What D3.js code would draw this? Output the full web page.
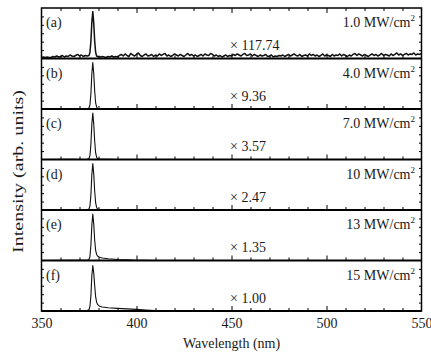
<!DOCTYPE html>
<html>
<head>
<meta charset="utf-8">
<script src="https://cdn.jsdelivr.net/npm/d3@7"></script>
<style>
  html, body { margin: 0; padding: 0; background: #fff; }
  svg { display: block; font-family: "Liberation Serif", "Times New Roman", serif; }
  text { fill: #1a1a1a; }
</style>
</head>
<body>
<svg id="chart" width="431" height="358"></svg>
<script>
// Panel descriptions (top to bottom)
const panelTags   = ["(a)", "(b)", "(c)", "(d)", "(e)", "(f)"];
const powerValues = ["1.0", "4.0", "7.0", "10", "13", "15"];
const scaleFactors = ["117.74", "9.36", "3.57", "2.47", "1.35", "1.00"];

// Shared wavelength grid (nm) for the emission line
const peakWl = [350, 365, 372, 374, 375, 375.5, 376, 376.5, 377, 377.5, 378, 378.5,
                379, 379.5, 380.5, 382, 385, 390, 395, 400, 405, 410, 420, 450, 500, 550];

// Normalized intensity for each panel on peakWl
const specA = [0.04, 0.05, 0.05, 0.05, 0.06, 0.12, 0.34, 0.72, 0.93, 0.7, 0.34, 0.12,
               0.05, 0.04, 0.04, 0.04, 0.04, 0.04, 0.05, 0.06, 0.05, 0.06, 0.06, 0.06, 0.06, 0.06];
const specB = [0, 0, 0, 0.004, 0.02, 0.08, 0.3, 0.7, 0.92, 0.7, 0.35, 0.12,
               0.04, 0.015, 0.006, 0.003, 0.002, 0, 0, 0, 0, 0, 0, 0, 0, 0];
const specC = [0, 0.004, 0, 0.004, 0.02, 0.08, 0.3, 0.7, 0.92, 0.7, 0.36, 0.13,
               0.045, 0.018, 0.008, 0.004, 0.002, 0, 0, 0, 0, 0, 0, 0, 0, 0];
const specD = [0, 0.004, 0, 0.005, 0.02, 0.08, 0.3, 0.7, 0.92, 0.71, 0.37, 0.14,
               0.05, 0.022, 0.01, 0.006, 0.003, 0.001, 0, 0, 0, 0, 0, 0, 0, 0];
const specE = [0, 0.003, 0.003, 0.006, 0.02, 0.08, 0.3, 0.7, 0.92, 0.72, 0.4, 0.2,
               0.12, 0.09, 0.065, 0.05, 0.035, 0.02, 0.012, 0.006, 0.003, 0, 0, 0, 0, 0];
const specF = [0, 0.004, 0.004, 0.008, 0.025, 0.09, 0.3, 0.7, 0.9, 0.75, 0.5, 0.28,
               0.18, 0.13, 0.095, 0.08, 0.065, 0.052, 0.042, 0.032, 0.02, 0.01, 0.003, 0, 0, 0];

// Background noise of the weakest spectrum, 1 nm steps from 350 nm (hundredths of full scale)
const noiseA = [
  2,3,2,3,2,2,4,3,5,3,4,6,3,5,4,7,5,4,6,8,5,7,4,6,5,
  5,5,5,5,5,5,
  3,4,3,2,4,3,5,3,4,3,6,
  8,5,9,6,4,10,7,5,8,11,6,4,7,9,5,6,8,4,7,5,
  9,6,8,10,5,7,4,6,9,7,5,8,6,4,7,10,6,8,5,7,
  4,6,8,5,9,7,6,10,8,5,7,4,6,3,5,7,4,6,5,8,
  6,9,7,5,8,10,6,7,9,5,8,6,4,7,5,6,8,4,5,7,
  3,5,4,6,5,7,4,6,8,5,7,9,6,5,8,4,6,7,5,9,
  6,8,5,7,4,6,9,5,7,6,4,8,5,7,6,9,5,8,6,4,
  7,5,8,10,6,9,7,5,8,6,4,7,9,6,8,5,7,10,6,8,
  7,5,9,6,8,11,7,9,6,8,10,7,9,8,11,7,9,8,10
];

const xTickLabels = [350, 400, 450, 500, 550];

const spectra = [specA, specB, specC, specD, specE, specF];

const svg = d3.select("#chart");
const plotLeft = 41.5, plotRight = 421.5, plotTop = 8, panelH = 50.5;
const nPanels = spectra.length;
const plotBottom = plotTop + panelH * nPanels;

const x = d3.scaleLinear().domain([350, 550]).range([plotLeft, plotRight]);

const minorX = d3.range(360, 550, 10).filter(v => v % 50 !== 0);
const majorX = [400, 450, 500];

spectra.forEach((spec, i) => {
  const pTop = plotTop + i * panelH;
  const pBot = pTop + panelH;
  const y = d3.scaleLinear().domain([0, 1]).range([pBot, pTop]);
  const g = svg.append("g");

  // series points
  let pts;
  if (i === 0) {
    const noisePts = noiseA.map((v, k) => [350 + k, v / 100])
      .filter(p => p[0] < 375 || p[0] > 380);
    const peakPts = peakWl.map((w, k) => [w, spec[k]]).filter(p => p[0] >= 375 && p[0] <= 380);
    pts = noisePts.concat(peakPts).sort((a, b) => a[0] - b[0]);
  } else {
    pts = peakWl.map((w, k) => [w, spec[k]]);
  }
  g.append("path")
    .attr("d", d3.line().x(d => x(d[0])).y(d => y(d[1]))(pts))
    .attr("fill", "none")
    .attr("stroke", "#111")
    .attr("stroke-width", i === 0 ? 1.5 : 1.1)
    .attr("stroke-linejoin", "round");

  // inward x ticks along the bottom of each panel
  g.append("g").attr("transform", `translate(0,${pBot})`)
    .call(d3.axisTop(x).tickValues(minorX).tickSize(3).tickFormat(""))
    .call(a => a.select(".domain").remove());
  g.append("g").attr("transform", `translate(0,${pBot})`)
    .call(d3.axisTop(x).tickValues(majorX).tickSize(5).tickFormat(""))
    .call(a => a.select(".domain").remove());

  // inward y ticks on both sides
  const yTicks = d3.range(1, 6).map(k => k / 6);
  g.append("g").attr("transform", `translate(${plotLeft},0)`)
    .call(d3.axisRight(y).tickValues(yTicks).tickSize(2.5).tickFormat(""))
    .call(a => a.select(".domain").remove());
  g.append("g").attr("transform", `translate(${plotRight},0)`)
    .call(d3.axisLeft(y).tickValues(yTicks).tickSize(2.5).tickFormat(""))
    .call(a => a.select(".domain").remove());

  // panel separator / frame line
  g.append("line")
    .attr("x1", plotLeft).attr("x2", plotRight).attr("y1", pBot).attr("y2", pBot)
    .attr("stroke", "#000").attr("stroke-width", 1.8);

  // labels
  g.append("text").attr("x", 46).attr("y", pTop + 19)
    .attr("font-size", 14).text(panelTags[i]);

  const pw = g.append("text").attr("x", 415).attr("y", pTop + 19)
    .attr("font-size", 14).attr("text-anchor", "end");
  pw.append("tspan").text(powerValues[i] + " MW/cm");
  pw.append("tspan").attr("dy", -6).attr("font-size", 9).text("2");

  g.append("text").attr("x", 230).attr("y", pBot - 8.5)
    .attr("font-size", 14).text("\u00d7 " + scaleFactors[i]);
});

// top ticks
svg.append("g").attr("transform", `translate(0,${plotTop})`)
  .call(d3.axisBottom(x).tickValues(minorX).tickSize(3).tickFormat(""))
  .call(a => a.select(".domain").remove());
svg.append("g").attr("transform", `translate(0,${plotTop})`)
  .call(d3.axisBottom(x).tickValues(majorX).tickSize(5).tickFormat(""))
  .call(a => a.select(".domain").remove());

// outer frame
svg.append("rect")
  .attr("x", plotLeft).attr("y", plotTop)
  .attr("width", plotRight - plotLeft).attr("height", plotBottom - plotTop)
  .attr("fill", "none").attr("stroke", "#000").attr("stroke-width", 1.5);

// x tick labels
svg.append("g").attr("transform", `translate(0,${plotBottom})`)
  .call(d3.axisBottom(x).tickValues(xTickLabels).tickSize(0).tickPadding(7))
  .call(a => a.select(".domain").remove())
  .call(a => a.selectAll("text").attr("font-size", 14)
    .attr("font-family", "Liberation Serif, serif").attr("fill", "#1a1a1a"));

// axis titles
svg.append("text")
  .attr("x", (plotLeft + plotRight) / 2).attr("y", 348)
  .attr("text-anchor", "middle").attr("font-size", 14)
  .text("Wavelength (nm)");

svg.append("text")
  .attr("transform", `translate(23,${(plotTop + plotBottom) / 2 + 12}) rotate(-90)`)
  .attr("text-anchor", "middle").attr("font-size", 14)
  .attr("textLength", 163).attr("lengthAdjust", "spacingAndGlyphs")
  .text("Intensity (arb. units)");

svg.selectAll(".tick line").attr("stroke", "#000").attr("stroke-width", 1);
</script>
</body>
</html>
